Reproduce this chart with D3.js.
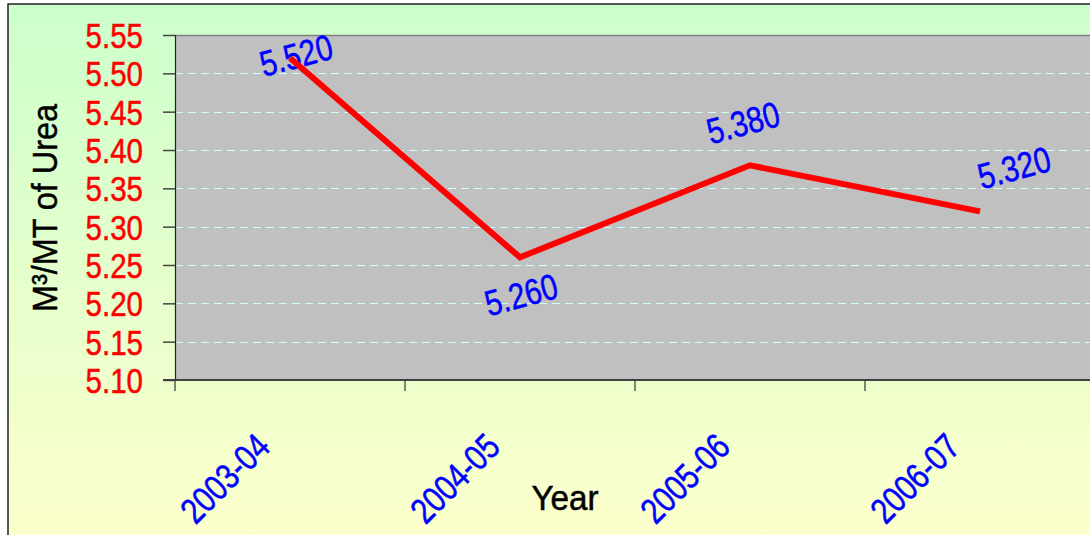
<!DOCTYPE html>
<meta charset="utf-8">
<style>
  body { margin: 0; background: #fff; }
  text { font-family: "Liberation Sans", Arial, sans-serif; stroke-width: 0.5px; }
</style>
<svg width="1090" height="535"></svg>

<script src="https://d3js.org/d3.v7.min.js"></script>
<script>
// data
var years = ["2003-04", "2004-05", "2005-06", "2006-07"]
var values = [5.52, 5.26, 5.38, 5.32]
var yTicks = [5.10, 5.15, 5.20, 5.25, 5.30, 5.35, 5.40, 5.45, 5.50, 5.55]

// where each value label sits relative to its point (dx, dy)
var labelShift = [[6, -3], [1, 37], [-7, -43], [34, -44]]

// no Arial Narrow here, so squeeze Liberation Sans
var narrow = ' scale(0.82,1)'

var svg = d3.select('svg')

var plot = { left: 175, top: 35, right: 1095, bottom: 380 }

// background gradient of the chart area
var defs = svg.append('defs')
var grad = defs.append('linearGradient')
  .attr('id', 'bg').attr('x1', 0).attr('y1', 0).attr('x2', 0).attr('y2', 1)
grad.append('stop').attr('offset', '0%').attr('stop-color', '#ccffcc')
grad.append('stop').attr('offset', '100%').attr('stop-color', '#ffffcc')

svg.append('rect')
  .attr('x', 8).attr('y', 4).attr('width', 1100).attr('height', 560)
  .attr('fill', 'url(#bg)')
  .attr('stroke', '#222').attr('stroke-width', 1.5)

var x = d3.scaleBand()
  .domain(years)
  .range([plot.left, plot.right])

var y = d3.scaleLinear()
  .domain([5.10, 5.55])
  .range([plot.bottom, plot.top])

// plot area
svg.append('rect')
  .attr('x', plot.left).attr('y', plot.top)
  .attr('width', plot.right - plot.left).attr('height', plot.bottom - plot.top)
  .attr('fill', '#c0c0c0')

svg.append('line')
  .attr('x1', plot.left).attr('x2', plot.right)
  .attr('y1', plot.top + 0.5).attr('y2', plot.top + 0.5)
  .attr('stroke', '#808080').attr('stroke-width', 1.5)

// gridlines
svg.append('g')
  .selectAll('line')
  .data(yTicks.filter(function (t) { return t > 5.10 && t < 5.55 }))
  .enter().append('line')
  .attr('x1', plot.left).attr('x2', plot.right)
  .attr('y1', function (d) { return Math.round(y(d)) + 0.5 })
  .attr('y2', function (d) { return Math.round(y(d)) + 0.5 })
  .attr('stroke', '#ccffff')
  .attr('stroke-width', 1)
  .attr('stroke-dasharray', '8,5')

// y axis (ticks + domain from d3, labels drawn squeezed)
var yAxis = svg.append('g')
  .attr('transform', 'translate(' + plot.left + ',0)')
  .call(d3.axisLeft(y).tickValues(yTicks).tickSize(12).tickFormat(''))
yAxis.select('.domain').attr('stroke', '#222').attr('stroke-width', 1.2)
yAxis.selectAll('.tick line').attr('stroke', '#444').attr('stroke-width', 1.5)

svg.append('g')
  .selectAll('text')
  .data(yTicks)
  .enter().append('text')
  .attr('transform', function (d) { return 'translate(143,' + y(d) + ')' + narrow })
  .attr('text-anchor', 'end')
  .attr('dy', '0.36em')
  .attr('fill', '#ff0000')
  .attr('stroke', '#ff0000')
  .attr('font-size', 36)
  .text(d3.format('.2f'))

// x axis
svg.append('line')
  .attr('x1', plot.left - 12).attr('x2', plot.right)
  .attr('y1', plot.bottom).attr('y2', plot.bottom)
  .attr('stroke', '#404040').attr('stroke-width', 2)

svg.append('g')
  .selectAll('line')
  .data(years)
  .enter().append('line')
  .attr('x1', function (d) { return x(d) })
  .attr('x2', function (d) { return x(d) })
  .attr('y1', plot.bottom).attr('y2', plot.bottom + 11)
  .attr('stroke', '#333').attr('stroke-width', 1.2)

svg.append('g')
  .selectAll('text')
  .data(years)
  .enter().append('text')
  .attr('transform', function (d) {
    return 'translate(' + (x(d) + x.bandwidth() / 2 - 18) + ',' + 449 + ') rotate(-45)' + narrow
  })
  .attr('text-anchor', 'end')
  .attr('fill', '#0000ff')
  .attr('stroke', '#0000ff')
  .attr('font-size', 36)
  .text(function (d) { return d })

// axis titles
svg.append('text')
  .attr('transform', 'translate(57,208) rotate(-90) scale(0.9,1)')
  .attr('text-anchor', 'middle')
  .attr('font-size', 36)
  .attr('fill', '#000')
  .attr('stroke', '#000')
  .text('M³/MT of Urea')

svg.append('text')
  .attr('transform', 'translate(565,510) scale(0.95,1)')
  .attr('text-anchor', 'middle')
  .attr('font-size', 35)
  .attr('fill', '#000')
  .attr('stroke', '#000')
  .text('Year')

// value labels
svg.append('g')
  .selectAll('text')
  .data(values)
  .enter().append('text')
  .attr('transform', function (d, i) {
    var cx = x(years[i]) + x.bandwidth() / 2 + labelShift[i][0]
    var cy = y(d) + labelShift[i][1]
    return 'translate(' + cx + ',' + cy + ') rotate(-15)' + narrow
  })
  .attr('text-anchor', 'middle')
  .attr('dy', '0.36em')
  .attr('fill', '#0000ff')
  .attr('stroke', '#0000ff')
  .attr('font-size', 36)
  .text(function (d) { return d3.format('.3f')(d) })

// the line
var line = d3.line()
  .x(function (d, i) { return x(years[i]) + x.bandwidth() / 2 })
  .y(function (d) { return y(d) })

svg.append('path')
  .datum(values)
  .attr('d', line)
  .attr('fill', 'none')
  .attr('stroke', '#ff0000')
  .attr('stroke-width', 6)
  .attr('stroke-linejoin', 'miter')
</script>
